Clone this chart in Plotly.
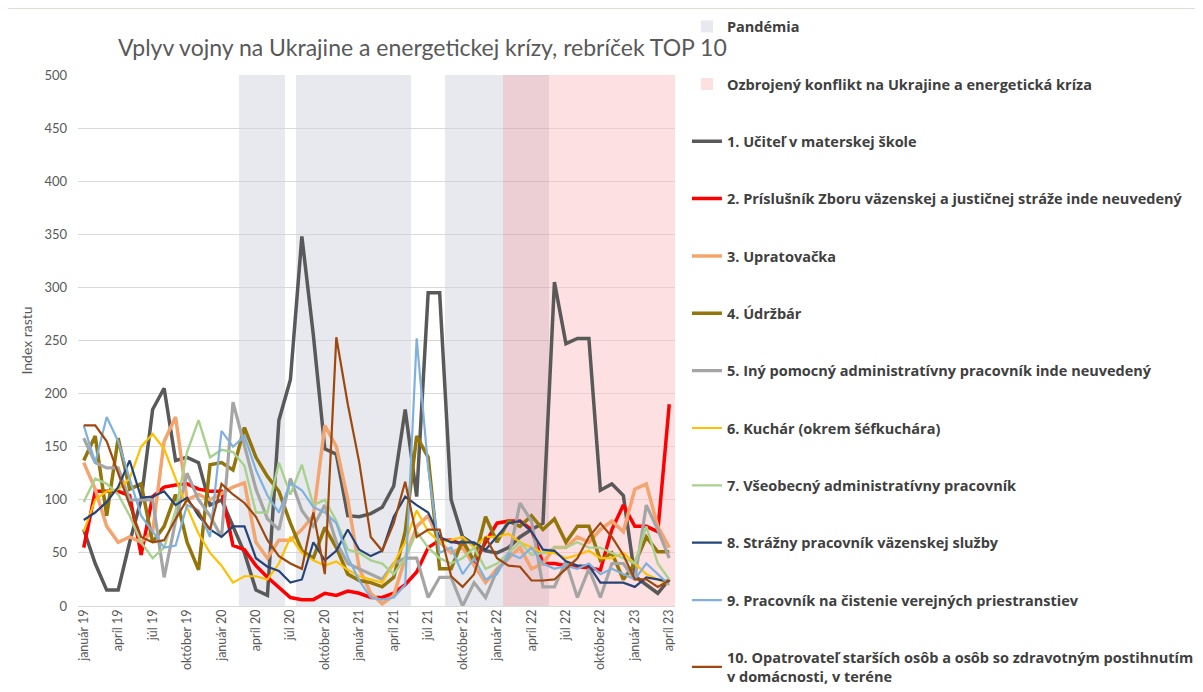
import plotly.graph_objects as go

# ---------------- data ----------------
month_names = ["január", "február", "marec", "apríl", "máj", "jún", "júl",
               "august", "september", "október", "november", "december"]
years = ["19", "20", "21", "22", "23"]
months = [f"{m} {y}" for y in years for m in month_names][:52]  # január 19 .. apríl 23

tick_labels = [m for m in months if m.split()[0] in ("január", "apríl", "júl", "október")]

# periods (month labels)
pandemia_months = months[14:18] + months[19:29] + months[32:37]
overlap_months = months[37:41]
konflikt_months = months[41:52]
band_top = 500

s1 = [72, 40, 15, 15, 60, 100, 185, 205, 137, 140, 135, 95, 100, 75, 50, 15, 10, 175, 213, 348,
      255, 148, 143, 85, 84, 87, 93, 113, 185, 103, 295, 295, 100, 65, 58, 52, 50, 55, 65, 72,
      78, 305, 247, 252, 252, 109, 115, 104, 28, 20, 12, 25]
s2 = [55, 108, 108, 108, 104, 48, 103, 112, 114, 115, 110, 108, 108, 57, 53, 38, 27, 17, 8, 6,
      6, 12, 10, 14, 12, 8, 8, 12, 20, 32, 55, 62, 62, 58, 40, 60, 78, 80, 80, 72,
      40, 40, 38, 37, 36, 34, 72, 95, 75, 75, 70, 190]
s3 = [135, 110, 75, 60, 65, 60, 70, 155, 178, 100, 105, 100, 106, 112, 116, 60, 45, 62, 62, 72,
      85, 170, 150, 100, 35, 12, 2, 10, 45, 75, 85, 60, 50, 55, 38, 22, 35, 45, 55, 35,
      40, 55, 55, 65, 60, 72, 80, 70, 110, 115, 75, 55]
s4 = [137, 160, 85, 158, 110, 115, 60, 75, 105, 60, 34, 133, 135, 128, 168, 140, 122, 108, 78, 52,
      45, 74, 55, 30, 24, 22, 18, 27, 70, 160, 140, 35, 35, 62, 42, 84, 60, 80, 75, 85,
      72, 82, 60, 75, 75, 43, 50, 25, 40, 65, 51, 51]
s5 = [158, 135, 130, 130, 100, 100, 100, 27, 80, 125, 100, 85, 65, 192, 150, 110, 82, 72, 120, 90,
      75, 95, 60, 40, 35, 30, 25, 40, 45, 45, 8, 27, 27, 0, 22, 8, 34, 45, 97, 80,
      18, 18, 42, 8, 35, 8, 40, 40, 25, 95, 72, 45]
s6 = [70, 100, 108, 110, 120, 150, 162, 148, 120, 93, 68, 50, 38, 22, 28, 28, 25, 40, 65, 50,
      43, 38, 42, 34, 28, 25, 22, 40, 60, 90, 70, 60, 62, 65, 55, 65, 65, 68, 60, 55,
      50, 50, 45, 48, 52, 45, 45, 50, 40, 30, 25, 20]
s7 = [98, 120, 115, 105, 85, 60, 45, 55, 90, 145, 175, 140, 147, 145, 132, 88, 88, 135, 105, 133,
      95, 100, 80, 53, 50, 43, 40, 30, 45, 70, 55, 45, 40, 45, 55, 35, 40, 50, 60, 48,
      50, 55, 55, 60, 55, 55, 50, 45, 40, 75, 40, 25]
s8 = [81, 88, 98, 112, 137, 102, 103, 108, 95, 102, 85, 72, 65, 75, 75, 45, 37, 33, 22, 25,
      60, 43, 52, 72, 53, 47, 52, 84, 103, 95, 88, 65, 60, 60, 60, 53, 65, 78, 80, 70,
      53, 52, 42, 38, 38, 22, 22, 22, 18, 27, 25, 23]
s9 = [170, 135, 178, 155, 120, 85, 70, 55, 57, 95, 90, 65, 165, 150, 160, 128, 104, 88, 116, 109,
      93, 88, 78, 46, 24, 8, 6, 8, 20, 252, 130, 50, 55, 30, 45, 25, 30, 50, 45, 55,
      40, 35, 38, 35, 40, 30, 35, 30, 25, 40, 30, 20]
s10 = [170, 170, 155, 125, 95, 65, 60, 62, 82, 100, 88, 72, 115, 105, 97, 84, 62, 47, 40, 35,
       88, 30, 253, 190, 135, 65, 52, 78, 117, 65, 72, 72, 28, 18, 30, 65, 45, 38, 37, 24,
       24, 25, 35, 45, 65, 78, 65, 48, 25, 25, 18, 24]

series_names = [
    "1. Učiteľ v materskej škole",
    "2. Príslušník Zboru väzenskej a justičnej stráže inde neuvedený",
    "3. Upratovačka",
    "4. Údržbár",
    "5. Iný pomocný administratívny pracovník inde neuvedený",
    "6. Kuchár (okrem šéfkuchára)",
    "7. Všeobecný administratívny pracovník",
    "8. Strážny pracovník väzenskej služby",
    "9. Pracovník na čistenie verejných priestranstiev",
    "10. Opatrovateľ starších osôb a osôb so zdravotným postihnutím<br>v domácnosti, v teréne",
]
series_values = [s1, s2, s3, s4, s5, s6, s7, s8, s9, s10]
series_colors = ["#595959", "#ff0000", "#f4a46e", "#94750a", "#a5a5a5",
                 "#ffc000", "#a9d18e", "#264478", "#7fb1de", "#9e480e"]
series_widths = [3.5, 3.5, 3.5, 3.5, 3.2, 2.2, 2.4, 2.2, 2.2, 2.2]

# ---------------- figure ----------------
fig = go.Figure()

fig.add_trace(go.Bar(x=pandemia_months, y=[band_top] * len(pandemia_months),
                     name="Pandémia", marker=dict(color="rgba(207,211,221,0.5)", line=dict(width=0)),
                     width=1, legendgroup="p", hoverinfo="skip"))
fig.add_trace(go.Bar(x=konflikt_months, y=[band_top] * len(konflikt_months),
                     name="Ozbrojený konflikt na Ukrajine a energetická kríza",
                     marker=dict(color="rgba(251,193,195,0.5)", line=dict(width=0)),
                     width=1, legendgroup="k", hoverinfo="skip"))
fig.add_trace(go.Bar(x=overlap_months, y=[band_top] * len(overlap_months),
                     name="overlap", showlegend=False,
                     marker=dict(color="rgba(217,157,171,0.5)", line=dict(width=0)),
                     width=1, legendgroup="k", hoverinfo="skip"))

for i, (nm, vals, col, w) in enumerate(zip(series_names, series_values, series_colors, series_widths)):
    fig.add_trace(go.Scatter(x=months, y=vals, mode="lines", name=nm,
                             line=dict(color=col, width=w), legendgroup=f"s{i}"))

fig.update_layout(
    width=1203, height=692,
    paper_bgcolor="white", plot_bgcolor="white",
    margin=dict(l=70, r=536, t=67, b=94, autoexpand=False),
    barmode="overlay", bargap=0,
    title=dict(text="Vplyv vojny na Ukrajine a energetickej krízy, rebríček TOP 10",
               x=110 / 1203, xanchor="left", xref="container",
               y=1 - 40 / 692, yanchor="middle", yref="container",
               font=dict(family="Lato", size=23, color="#595959")),
    legend=dict(x=1.020, xanchor="left", y=1.1212, yanchor="top",
                traceorder="grouped", tracegroupgap=35.5, maxheight=700,
                font=dict(family="Open Sans", size=14.5, color="#404040", weight="bold"),
                bgcolor="rgba(0,0,0,0)"),
    showlegend=True,
    shapes=[dict(type="line", xref="paper", yref="paper",
                 x0=-70 / 597, x1=(1203 - 70) / 597, y0=1 + 67 / 531, y1=1 + 67 / 531,
                 line=dict(color="#d8d2bf", width=1.5))],
)
fig.update_xaxes(type="category", categoryorder="array", categoryarray=months,
                 tickmode="array", tickvals=tick_labels, ticktext=tick_labels,
                 tickangle=-90, tickfont=dict(family="Lato", size=12.5, color="#595959"),
                 showgrid=False, showline=False, ticks="", range=[-0.5, 51.5])
fig.update_yaxes(range=[0, 500], dtick=50, gridcolor="#d9d9d9", gridwidth=1,
                 zeroline=True, zerolinecolor="#d9d9d9", zerolinewidth=1,
                 ticklabelstandoff=10,
                 tickfont=dict(family="Lato", size=13, color="#595959"),
                 title=dict(text="Index rastu", font=dict(family="Lato", size=14, color="#595959"),
                            standoff=8))

fig.write_html("out.html")
